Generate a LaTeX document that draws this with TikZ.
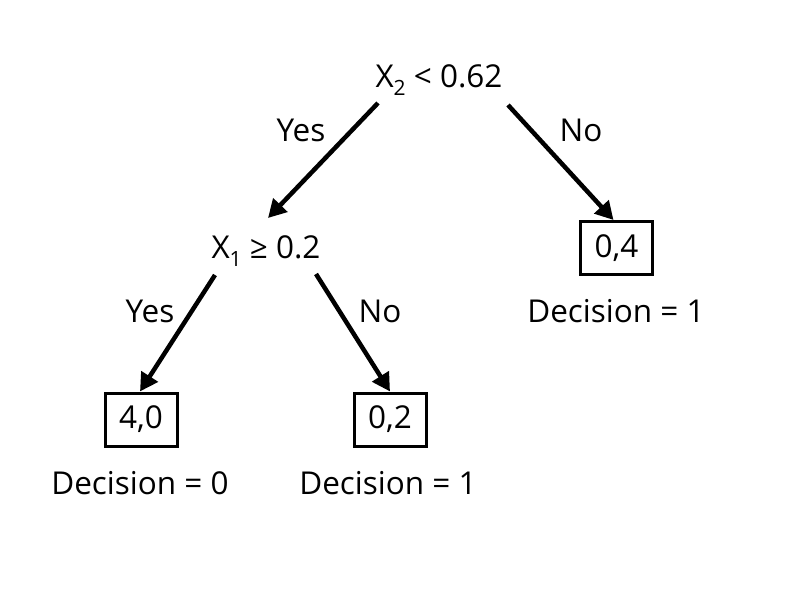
\documentclass[tikz,border=0pt]{standalone}
\usepackage{fontspec}
\setmainfont{Open Sans}
\usetikzlibrary{arrows.meta}
\newcommand{\mysub}[1]{\raisebox{-0.24em}{\fontsize{21}{21}\selectfont #1}}
\begin{document}
\begin{tikzpicture}[x=1pt,y=-1pt,
  lbl/.style={inner sep=0pt,font=\fontsize{31.5}{36}\selectfont},
  leaf/.style={draw,line width=3pt,minimum width=72pt,minimum height=53pt,inner sep=0pt,font=\fontsize{31.5}{36}\selectfont},
  arr/.style={line width=4.5pt,-{Triangle[length=18pt,width=19pt]}}]
\useasboundingbox[fill=white] (0,0) rectangle (802,601);
\node[lbl] (root) at (439,80) {X\mysub{2} < 0.62};
\node[lbl] (x1) at (266,251) {X\mysub{1} ≥ 0.2};
\node[leaf] (b04) at (616.5,248) {0,4};
\node[leaf] (b40) at (141,419.5) {4,0};
\node[leaf] (b02) at (390,419.5) {0,2};
\node[lbl] (yes1) at (301,130) {Yes};
\node[lbl] (no1) at (581,130) {No};
\node[lbl] (yes2) at (150,311) {Yes};
\node[lbl] (no2) at (380,311) {No};
\node[lbl] (d04) at (616,311) {Decision = 1};
\node[lbl] (d40) at (140,483) {Decision = 0};
\node[lbl] (d02) at (388,483) {Decision = 1};
\draw[arr] ([xshift=-61pt,yshift=-23pt]root.center) -- ([xshift=2pt,yshift=33pt]x1.center);
\draw[arr] ([xshift=69pt,yshift=-25pt]root.center) -- ([xshift=-3pt]b04.north);
\draw[arr] ([xshift=-51pt,yshift=-24pt]x1.center) -- ([xshift=-1pt]b40.north);
\draw[arr] ([xshift=50pt,yshift=-23pt]x1.center) -- (b02.north);
\end{tikzpicture}
\end{document}
